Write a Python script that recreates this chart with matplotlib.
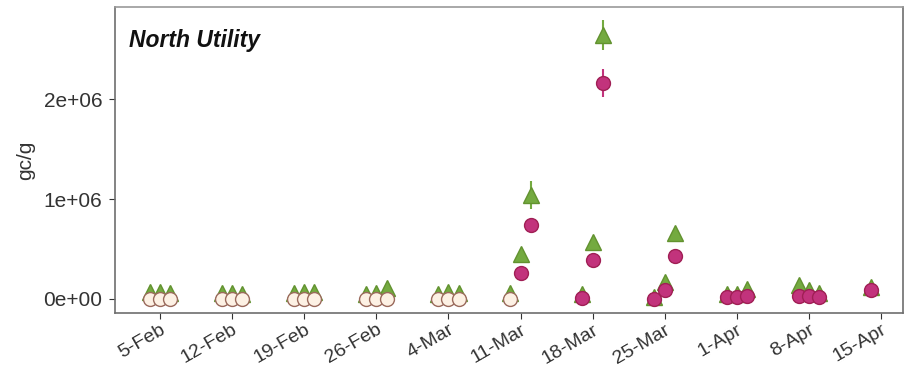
import datetime as dt
import matplotlib
matplotlib.use("Agg")
import matplotlib.pyplot as plt

# fechas de muestreo (2020)
fechas = ["2020-02-04", "2020-02-05", "2020-02-06",
          "2020-02-11", "2020-02-12", "2020-02-13",
          "2020-02-18", "2020-02-19", "2020-02-20",
          "2020-02-25", "2020-02-26", "2020-02-27",
          "2020-03-03", "2020-03-04", "2020-03-05",
          "2020-03-10", "2020-03-11", "2020-03-12",
          "2020-03-17", "2020-03-18", "2020-03-19",
          "2020-03-24", "2020-03-25", "2020-03-26",
          "2020-03-31", "2020-04-01", "2020-04-02",
          "2020-04-07", "2020-04-08", "2020-04-09",
          "2020-04-14"]

# serie triangulos (verde)
tri_val = [7e4, 7e4, 6e4, 6e4, 6e4, 5e4, 6e4, 7e4, 7e4, 5e4, 6e4, 1.1e5,
           5e4, 7e4, 6e4, 6e4, 4.5e5, 1.04e6, 5e4, 5.7e5, 2.64e6,
           2e4, 1.7e5, 6.6e5, 5e4, 5e4, 1.0e5, 1.4e5, 9e4, 6e4, 1.2e5]
tri_err = [1e4] * 16 + [3e4, 1.4e5, 1e4, 4e4, 1.5e5, 1e4, 2e4, 4e4,
                        1e4, 1e4, 1e4, 1e4, 1e4, 1e4, 1e4]

# serie circulos (magenta); False = no detectado
circ_val = [0] * 16 + [2.6e5, 7.4e5, 1e4, 3.9e5, 2.16e6, 0, 9e4, 4.3e5,
                       2e4, 2e4, 3e4, 3e4, 3e4, 2e4, 9e4]
circ_err = [0] * 16 + [2e4, 4e4, 1e4, 3e4, 1.4e5, 1e4, 1e4, 3e4,
                       1e4, 1e4, 1e4, 1e4, 1e4, 1e4, 1e4]
detectado = [False] * 16 + [True] * 15

etiquetas_x = ["5-Feb", "12-Feb", "19-Feb", "26-Feb", "4-Mar", "11-Mar",
               "18-Mar", "25-Mar", "1-Apr", "8-Apr", "15-Apr"]
ticks_x = ["2020-02-05", "2020-02-12", "2020-02-19", "2020-02-26", "2020-03-04",
           "2020-03-11", "2020-03-18", "2020-03-25", "2020-04-01", "2020-04-08",
           "2020-04-15"]

plt.rcParams['font.family'] = ['Liberation Sans', 'DejaVu Sans']

x = [dt.datetime.strptime(f, "%Y-%m-%d") for f in fechas]

fig = plt.figure(figsize=(9.05, 3.77), dpi=100)
ax = fig.add_axes([0.127, 0.170, 0.871, 0.811])

verde = "#74aa40"
magenta = "#c2337c"

ax.errorbar(x, tri_val, yerr=tri_err, fmt="^", ms=12, color=verde,
            mec="#62922f", ecolor=verde, elinewidth=1.5, capsize=0, zorder=2)

for xi, v, e, d in zip(x, circ_val, circ_err, detectado):
    if d:
        ax.errorbar([xi], [v], yerr=[e], fmt="o", ms=10, color=magenta,
                    mec="#a01f55", ecolor=magenta, elinewidth=1.5, capsize=0, zorder=3)
    else:
        ax.plot([xi], [v], "o", ms=10, mfc="#fdf1e4", mec="#9a6a5c", mew=1.0, zorder=3)

ax.set_ylim(-0.14e6, 2.92e6)
ax.set_yticks([0, 1e6, 2e6])
ax.set_yticklabels(["0e+00", "1e+06", "2e+06"])
t0 = dt.datetime(2020, 2, 5)
ax.set_xlim(t0 - dt.timedelta(days=4.37), dt.datetime(2020, 4, 15) + dt.timedelta(days=2.14))
ax.set_xticks([dt.datetime.strptime(t, "%Y-%m-%d") for t in ticks_x])
ax.set_xticklabels(etiquetas_x, rotation=30, ha="right", rotation_mode="anchor")

ax.tick_params(axis="both", colors="#333333", length=4, width=0.8)
ax.tick_params(axis="x", labelsize=14, pad=2)
ax.tick_params(axis="y", labelsize=15, pad=5)
for s in ax.spines.values():
    s.set_color("#6e6e6e")
    s.set_linewidth(1.2)
ax.spines["top"].set_color("#9a9a9a")

ax.set_ylabel("gc/g", fontsize=15, color="#333333", labelpad=6)
ax.text(0.018, 0.892, "North Utility", transform=ax.transAxes, fontsize=16.5,
        fontweight="bold", fontstyle="italic", color="#111111", va="center")

fig.savefig("out.png", dpi=100)
